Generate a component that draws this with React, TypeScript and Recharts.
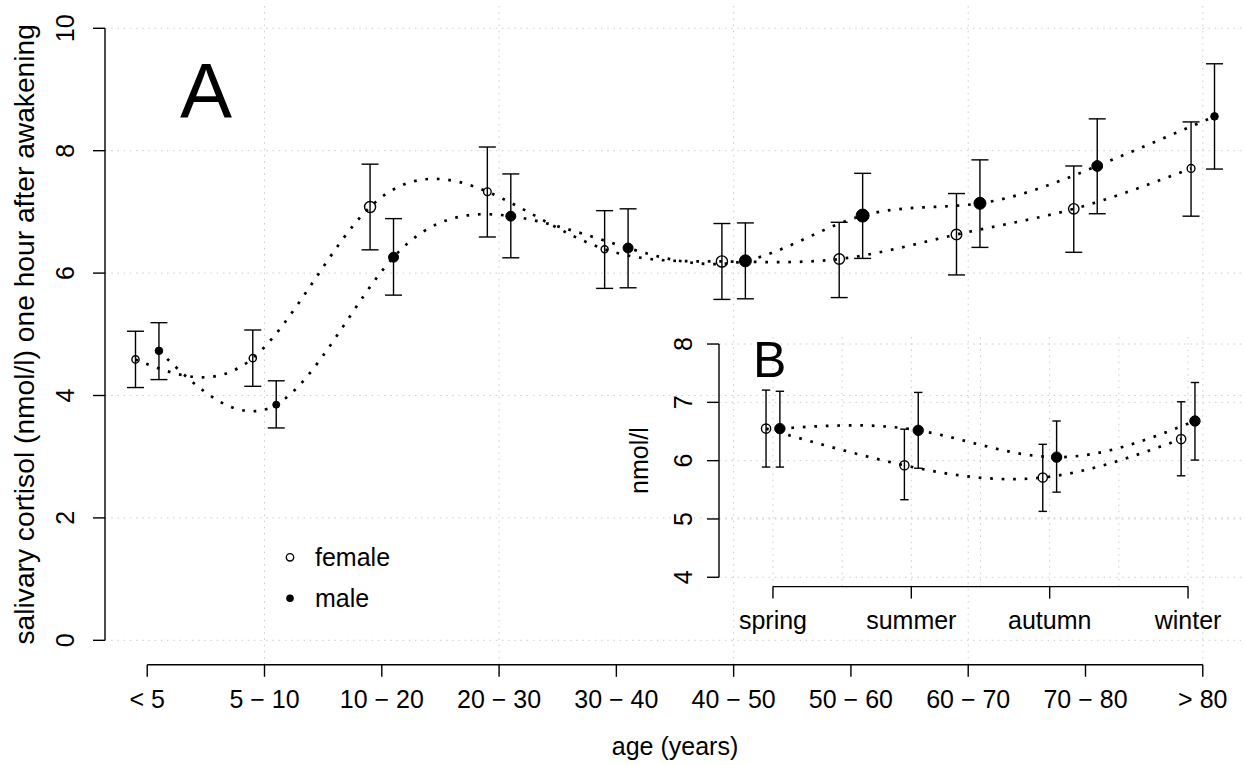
import React from 'react';
import { ComposedChart, XAxis, YAxis, Line, Scatter, ErrorBar, ReferenceLine } from 'recharts';

// ---------- Panel A data (age groups) ----------
const AGE_GROUPS = ['< 5', '5 − 10', '10 − 20', '20 − 30', '30 − 40', '40 − 50', '50 − 60', '60 − 70', '70 − 80', '> 80'];
const FEMALE_MEAN = [4.59, 4.61, 7.08, 7.33, 6.39, 6.19, 6.23, 6.63, 7.05, 7.71];
const FEMALE_HI = [5.05, 5.07, 7.78, 8.06, 7.02, 6.81, 6.83, 7.30, 7.75, 8.47];
const FEMALE_LO = [4.13, 4.15, 6.38, 6.59, 5.75, 5.57, 5.60, 5.97, 6.34, 6.93];
const MALE_MEAN = [4.73, 3.85, 6.26, 6.93, 6.41, 6.20, 6.94, 7.14, 7.75, 8.56];
const MALE_HI = [5.19, 4.24, 6.89, 7.62, 7.05, 6.82, 7.63, 7.85, 8.52, 9.42];
const MALE_LO = [4.26, 3.47, 5.64, 6.25, 5.76, 5.58, 6.24, 6.42, 6.97, 7.70];

// ---------- Panel B data (seasons) ----------
const SEASONS = ['spring', 'summer', 'autumn', 'winter'];
const FEMALE_B_MEAN = [6.55, 5.92, 5.71, 6.37];
const FEMALE_B_HI = [7.21, 6.54, 6.28, 7.01];
const FEMALE_B_LO = [5.89, 5.33, 5.13, 5.74];
const MALE_B_MEAN = [6.55, 6.52, 6.06, 6.68];
const MALE_B_HI = [7.19, 7.17, 6.68, 7.34];
const MALE_B_LO = [5.89, 5.87, 5.46, 6.01];

// ---------- ticks / grid ----------
const A_X_TICKS = [1, 2, 3, 4, 5, 6, 7, 8, 9, 10];
const A_Y_TICKS = [0, 2, 4, 6, 8, 10];
const A_GRID_X = [2, 4, 6, 8, 10];
const A_GRID_Y = [0, 2, 4, 6, 8, 10];
const B_X_TICKS = [1, 2, 3, 4];
const B_Y_TICKS = [4, 5, 6, 7, 8];
const B_GRID_X = [1, 1.5, 2, 2.5, 3, 3.5, 4];
const B_GRID_Y = [4, 5, 6, 7, 8];

// ---------- styling (marker radii) ----------
const R_FEMALE_A = [3.6, 3.6, 5.5, 3.8, 3.5, 5.6, 5.3, 5.3, 5.2, 3.9];
const R_MALE_A = [3.8, 3.5, 5.0, 5.0, 5.0, 6.0, 6.5, 6.0, 5.4, 3.8];
const R_FEMALE_B = 4.6;
const R_MALE_B = 5.2;

const FONT = '"Liberation Sans", Arial, Helvetica, sans-serif';
const GRID_STROKE = '#cfcfcf';
const GRID_DASH = '1.6 4.6';

const build = (means: number[], lo: number[], hi: number[], offset: number, radii: (i: number) => number) =>
  means.map((y, i) => ({ x: i + 1 + offset, y, err: [y - lo[i], hi[i] - y], r: radii(i) }));

const femaleA = build(FEMALE_MEAN, FEMALE_LO, FEMALE_HI, -0.1, (i) => R_FEMALE_A[i]);
const maleA = build(MALE_MEAN, MALE_LO, MALE_HI, 0.1, (i) => R_MALE_A[i]);
const femaleB = build(FEMALE_B_MEAN, FEMALE_B_LO, FEMALE_B_HI, -0.05, () => R_FEMALE_B);
const maleB = build(MALE_B_MEAN, MALE_B_LO, MALE_B_HI, 0.05, () => R_MALE_B);

const openShape = (p: any) => (
  <circle cx={p.cx} cy={p.cy} r={p.payload.r} fill="none" stroke="#000" strokeWidth={1.4} />
);
const filledShape = (p: any) => (
  <circle cx={p.cx} cy={p.cy} r={p.payload.r} fill="#000" stroke="#000" strokeWidth={1} />
);

const textStyle = { fontFamily: FONT, fontSize: 25, fill: '#000' } as const;

const lineProps = {
  dataKey: 'y',
  type: 'natural' as const,
  stroke: '#000',
  strokeWidth: 2.7,
  strokeDasharray: '2.7 8.8',
  dot: false,
  activeDot: false,
  isAnimationActive: false,
};

const tickLineStyle = { stroke: '#000', strokeWidth: 1.4 };

function PanelA() {
  return (
    <ComposedChart width={1245} height={765} margin={{ top: 3.8, right: 0, bottom: 0.2, left: 0 }}>
      <XAxis
        type="number"
        dataKey="x"
        domain={[0.64, 10.36]}
        allowDataOverflow
        ticks={A_X_TICKS}
        interval={0}
        axisLine={false}
        tickLine={tickLineStyle}
        tickSize={12}
        height={100}
        tick={(p: any) => (
          <text x={p.x} y={708.3} textAnchor="middle" style={textStyle}>
            {AGE_GROUPS[Math.round(p.payload.value) - 1]}
          </text>
        )}
      />
      <YAxis
        type="number"
        dataKey="y"
        domain={[-0.4, 10.4]}
        allowDataOverflow
        ticks={A_Y_TICKS}
        interval={0}
        axisLine={false}
        tickLine={tickLineStyle}
        tickSize={12}
        width={105}
        tick={(p: any) => (
          <text x={74} y={p.y} transform={`rotate(-90 74 ${p.y})`} textAnchor="middle" style={textStyle}>
            {p.payload.value}
          </text>
        )}
      />
      {A_GRID_Y.map((v) => (
        <ReferenceLine key={'gy' + v} y={v} stroke={GRID_STROKE} strokeDasharray={GRID_DASH} strokeWidth={1} ifOverflow="visible" />
      ))}
      {A_GRID_X.map((v) => (
        <ReferenceLine key={'gx' + v} x={v} stroke={GRID_STROKE} strokeDasharray={GRID_DASH} strokeWidth={1} ifOverflow="visible" />
      ))}
      <ReferenceLine
        segment={[{ x: A_X_TICKS[0], y: -0.4 }, { x: A_X_TICKS[A_X_TICKS.length - 1], y: -0.4 }]}
        stroke="#000"
        strokeWidth={1.4}
        ifOverflow="visible"
      />
      <ReferenceLine
        segment={[{ x: 0.64, y: A_Y_TICKS[0] }, { x: 0.64, y: A_Y_TICKS[A_Y_TICKS.length - 1] }]}
        stroke="#000"
        strokeWidth={1.4}
        ifOverflow="visible"
      />
      <Line data={femaleA} {...lineProps} />
      <Line data={maleA} {...lineProps} />
      <Scatter data={femaleA} dataKey="y" shape={openShape} isAnimationActive={false}>
        <ErrorBar dataKey="err" direction="y" width={8.5} stroke="#000" strokeWidth={1.4} isAnimationActive={false} />
      </Scatter>
      <Scatter data={maleA} dataKey="y" shape={filledShape} isAnimationActive={false}>
        <ErrorBar dataKey="err" direction="y" width={8.5} stroke="#000" strokeWidth={1.4} isAnimationActive={false} />
      </Scatter>
    </ComposedChart>
  );
}

function PanelB() {
  return (
    <ComposedChart width={1245} height={765} margin={{ top: 334.7, right: 3, bottom: 78.4, left: 619 }}>
      <XAxis
        type="number"
        dataKey="x"
        domain={[0.61, 4.39]}
        allowDataOverflow
        ticks={B_X_TICKS}
        interval={0}
        axisLine={false}
        tickLine={tickLineStyle}
        tickSize={12}
        height={100}
        tick={(p: any) => (
          <text x={p.x} y={629} textAnchor="middle" style={textStyle}>
            {SEASONS[Math.round(p.payload.value) - 1]}
          </text>
        )}
      />
      <YAxis
        type="number"
        dataKey="y"
        domain={[3.84, 8.16]}
        allowDataOverflow
        ticks={B_Y_TICKS}
        interval={0}
        axisLine={false}
        tickLine={tickLineStyle}
        tickSize={12}
        width={100}
        tick={(p: any) => (
          <text x={692} y={p.y} transform={`rotate(-90 692 ${p.y})`} textAnchor="middle" style={textStyle}>
            {p.payload.value}
          </text>
        )}
      />
      {B_GRID_Y.map((v) => (
        <ReferenceLine key={'gy' + v} y={v} stroke={GRID_STROKE} strokeDasharray={GRID_DASH} strokeWidth={1} ifOverflow="visible" />
      ))}
      {B_GRID_X.map((v) => (
        <ReferenceLine key={'gx' + v} x={v} stroke={GRID_STROKE} strokeDasharray={GRID_DASH} strokeWidth={1} ifOverflow="visible" />
      ))}
      <ReferenceLine
        segment={[{ x: B_X_TICKS[0], y: 3.84 }, { x: B_X_TICKS[B_X_TICKS.length - 1], y: 3.84 }]}
        stroke="#000"
        strokeWidth={1.4}
        ifOverflow="visible"
      />
      <ReferenceLine
        segment={[{ x: 0.61, y: B_Y_TICKS[0] }, { x: 0.61, y: B_Y_TICKS[B_Y_TICKS.length - 1] }]}
        stroke="#000"
        strokeWidth={1.4}
        ifOverflow="visible"
      />
      <Line data={femaleB} {...lineProps} />
      <Line data={maleB} {...lineProps} />
      <Scatter data={femaleB} dataKey="y" shape={openShape} isAnimationActive={false}>
        <ErrorBar dataKey="err" direction="y" width={4.2} stroke="#000" strokeWidth={1.4} isAnimationActive={false} />
      </Scatter>
      <Scatter data={maleB} dataKey="y" shape={filledShape} isAnimationActive={false}>
        <ErrorBar dataKey="err" direction="y" width={4.2} stroke="#000" strokeWidth={1.4} isAnimationActive={false} />
      </Scatter>
    </ComposedChart>
  );
}

function Overlay() {
  return (
    <svg width={1245} height={765} style={{ position: 'absolute', left: 0, top: 0, pointerEvents: 'none' }}>
      <text x={206} y={118} textAnchor="middle" style={{ fontFamily: FONT, fontSize: 78, fill: '#000' }}>A</text>
      <text x={753} y={377} textAnchor="start" style={{ fontFamily: FONT, fontSize: 50, fill: '#000' }}>B</text>
      <text x={675} y={755} textAnchor="middle" style={textStyle}>age (years)</text>
      <text x={34} y={334.3} transform="rotate(-90 34 334.3)" textAnchor="middle" style={{ ...textStyle, fontSize: 28.2 }}>
        salivary cortisol (nmol/l) one hour after awakening
      </text>
      <text x={648} y={460.6} transform="rotate(-90 648 460.6)" textAnchor="middle" style={textStyle}>nmol/l</text>
      <circle cx={290} cy={557.3} r={3.7} fill="none" stroke="#000" strokeWidth={1.4} />
      <text x={315} y={566} style={textStyle}>female</text>
      <circle cx={290} cy={598.3} r={3.8} fill="#000" />
      <text x={315} y={607} style={textStyle}>male</text>
    </svg>
  );
}

export default function App() {
  return (
    <div style={{ position: 'absolute', left: 0, top: 0, width: 1245, height: 765, background: '#fff', overflow: 'hidden' }}>
      <div style={{ position: 'absolute', left: 0, top: 0 }}>
        <PanelA />
      </div>
      <div style={{ position: 'absolute', left: 0, top: 0 }}>
        <PanelB />
      </div>
      <Overlay />
    </div>
  );
}
